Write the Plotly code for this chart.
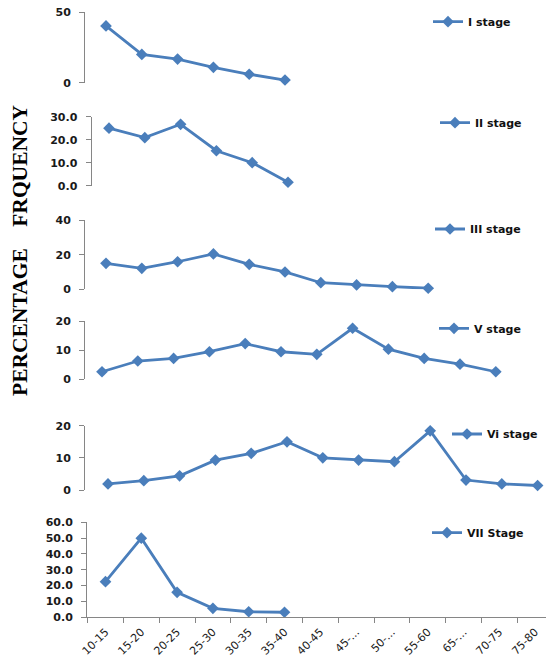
import plotly.graph_objects as go

# ---- data ----
categories = ["10-15", "15-20", "20-25", "25-30", "30-35", "35-40", "40-45",
              "45-...", "50-...", "55-60", "65-...", "70-75", "75-80"]

series_names = ["I stage", "II stage", "III stage", "V stage", "Vi stage", "VII Stage"]

stage_I = [40.3, 20.1, 16.8, 10.9, 6.0, 1.9]
stage_II = [25.0, 20.9, 26.7, 15.2, 10.0, 1.5]
stage_III = [15.0, 12.1, 15.9, 20.4, 14.4, 10.0, 3.8, 2.5, 1.5, 0.6]
stage_V = [2.5, 6.2, 7.1, 9.4, 12.2, 9.4, 8.5, 17.5, 10.3, 7.1, 5.1, 2.5]
stage_VI = [1.9, 2.9, 4.4, 9.3, 11.4, 15.0, 10.0, 9.3, 8.8, 18.4, 3.1, 1.9, 1.4]
stage_VII = [22.5, 50.0, 15.8, 5.7, 3.5, 3.2]

series_values = [stage_I, stage_II, stage_III, stage_V, stage_VI, stage_VII]

y_max = [50, 30, 40, 20, 20, 60]
y_dtick = [50, 10, 20, 10, 10, 10]
y_format = ["d", ".1f", "d", "d", "d", ".1f"]

y_title = "PERCENTAGE\u00a0\u00a0\u00a0 FRQUENCY"

# ---- layout geometry (pixels in the 546x658 window) ----
W, H = 546, 658


def px(x):
    return x / W


def py(y):
    return 1 - y / H


# y axis line x, first category centre x
axis_left = [85, 91.5, 85, 85, 85, 87]
first_centre = [106, 109, 106, 102, 108, 105.5]
spacing = 35.8
# plot top / bottom pixel
tops = [12.3, 116.7, 220, 321, 425.7, 522.3]
bottoms = [82.7, 185.7, 289.3, 379, 490, 617.3]
# legend: left x, centre y
leg_x = [428, 435, 430, 434, 447, 427]
leg_y = [21.7, 122.7, 229, 328.3, 434, 532.7]

LINE = "#4A7EBB"
AXIS = "#868686"

fig = go.Figure()
layout = dict(
    width=W, height=H,
    margin=dict(l=0, r=0, t=0, b=0, autoexpand=False),
    paper_bgcolor="white", plot_bgcolor="white",
    showlegend=True,
)

for i in range(6):
    n = i + 1
    xa = "x" if n == 1 else f"x{n}"
    ya = "y" if n == 1 else f"y{n}"
    lg = "legend" if n == 1 else f"legend{n}"
    vals = series_values[i]
    fig.add_trace(go.Scatter(
        x=categories[:len(vals)], y=vals,
        name=series_names[i],
        mode="lines+markers",
        line=dict(color=LINE, width=2.8),
        marker=dict(symbol="diamond", size=9, color=LINE),
        xaxis=xa, yaxis=ya, legend=lg,
        cliponaxis=False,
    ))

    r0 = -(first_centre[i] - axis_left[i]) / spacing
    r1 = (W - first_centre[i]) / spacing
    xkey = "xaxis" if n == 1 else f"xaxis{n}"
    ykey = "yaxis" if n == 1 else f"yaxis{n}"
    is_bottom = (n == 6)
    layout[xkey] = dict(
        domain=[px(axis_left[i]), 1.0],
        anchor=ya,
        type="category",
        categoryorder="array", categoryarray=categories,
        range=[r0, r1],
        automargin=False,
        showgrid=False, zeroline=False,
        showline=is_bottom, linecolor=AXIS, linewidth=1,
        ticks="outside" if is_bottom else "",
        tickson="boundaries", ticklen=5, tickcolor=AXIS,
        showticklabels=is_bottom,
        tickangle=-45,
        ticklabelstandoff=3,
        tickfont=dict(family="DejaVu Sans", size=11, color="#1a1a1a"),
        tickvals=categories if is_bottom else None,
    )
    layout[ykey] = dict(
        domain=[py(bottoms[i]), py(tops[i])],
        anchor=xa,
        range=[0, y_max[i]],
        dtick=y_dtick[i], tick0=0,
        tickformat=y_format[i],
        automargin=False,
        ticklabeloverflow="allow",
        ticklabelstandoff=6,
        showgrid=False, zeroline=False,
        showline=True, linecolor=AXIS, linewidth=1,
        ticks="outside", ticklen=5, tickcolor=AXIS,
        tickfont=dict(family="DejaVu Sans", size=11, color="#1a1a1a", weight="bold"),
    )
    layout[lg] = dict(
        x=px(leg_x[i]), xanchor="left",
        y=py(leg_y[i]), yanchor="middle",
        bgcolor="rgba(0,0,0,0)",
        font=dict(family="DejaVu Sans", size=11, color="#111111", weight="bold"),
        itemwidth=30,
        tracegroupgap=0,
    )

layout["annotations"] = [dict(
    text=y_title,
    x=px(20), y=py(250), xref="paper", yref="paper",
    xanchor="center", yanchor="middle",
    textangle=-90, showarrow=False,
    font=dict(family="Liberation Serif", size=21.5, color="#000000", weight="bold"),
)]

fig.update_layout(**layout)
fig.write_html("out.html",
               config={"displayModeBar": False},
               post_script="document.body.style.margin='0';")
